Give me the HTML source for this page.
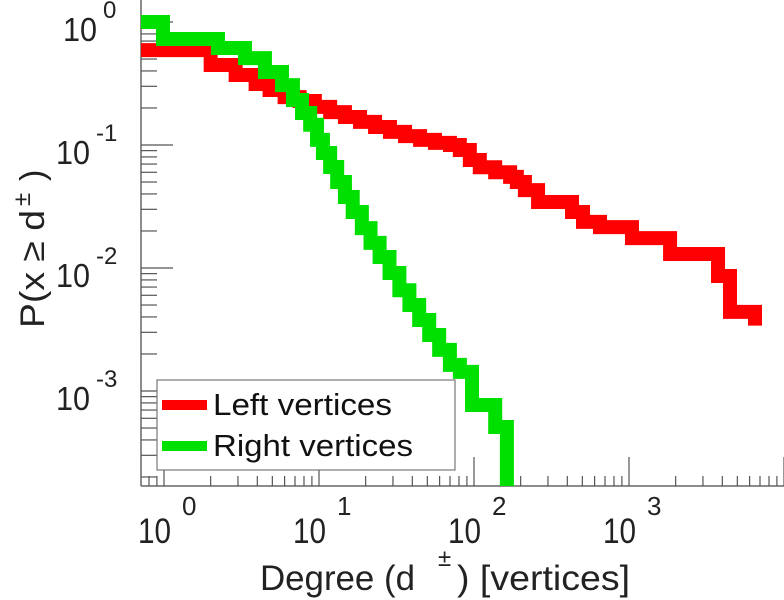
<!DOCTYPE html>
<html><head><meta charset="utf-8"><style>
html,body{margin:0;padding:0;background:#fff;}
svg{display:block;font-family:"Liberation Sans",sans-serif;}
</style></head><body>
<div style="position:relative;width:784px;height:600px;">
<svg id="chart" width="784" height="600" viewBox="0 0 784 600" style="position:absolute;left:0;top:0"></svg>
<svg width="784" height="600" style="position:absolute;left:0;top:0;font-family:'Liberation Sans',sans-serif">
 <g fill="#222">
  <text x="260" y="590" font-size="35" textLength="155" lengthAdjust="spacingAndGlyphs">Degree (d</text>
  <text x="438" y="566" font-size="24">±</text>
  <text x="457" y="590" font-size="35" textLength="173" lengthAdjust="spacingAndGlyphs">) [vertices]</text>
 </g>
 <g transform="translate(44,328) rotate(-90)" fill="#222">
  <text x="0" y="0" font-size="34" textLength="118" lengthAdjust="spacingAndGlyphs">P(x ≥ d</text>
  <text x="122" y="-14" font-size="24">±</text>
  <text x="147" y="0" font-size="34">)</text>
 </g>
 <g>
  <rect x="157" y="380" width="298" height="90" fill="#fff" stroke="#777" stroke-width="1.2"/>
  <line x1="162" y1="405" x2="207" y2="405" stroke="#ff0000" stroke-width="10"/>
  <text x="213" y="415" font-size="31" fill="#111" textLength="179" lengthAdjust="spacingAndGlyphs">Left vertices</text>
  <line x1="162" y1="446" x2="207" y2="446" stroke="#00e000" stroke-width="10"/>
  <text x="213" y="456" font-size="31" fill="#111" textLength="200" lengthAdjust="spacingAndGlyphs">Right vertices</text>
 </g>
</svg>
</div>
<script>
const redDegrees=[0.71,2,2.9,3.9,4.8,6.0,7.5,9.4,11.8,14.7,18.4,23,28.7,35.9,44.9,56,70,81,94,109,137,171,189,213,259,429,505,650,1045,1841,3752,4484,6500];
const redProbs=[0.59,0.447,0.371,0.313,0.28,0.245,0.228,0.204,0.185,0.169,0.154,0.14,0.128,0.118,0.11,0.104,0.1,0.091,0.0755,0.066,0.060,0.055,0.050,0.043,0.0344,0.0285,0.0237,0.0215,0.0175,0.013,0.0086,0.0044,0.0034];
const greenDegrees=[0.71,0.985,2.23,3.33,4.48,5.77,6.79,7.77,8.77,9.71,10.6,11.8,13.1,14.7,16.5,18.9,21.5,24.6,28.5,33.0,38.3,44.3,51.4,59.6,69.9,81.1,97.1,137,163];
const greenProbs=[1,0.727,0.615,0.509,0.392,0.307,0.232,0.182,0.146,0.110,0.0861,0.0663,0.050,0.0378,0.0285,0.0211,0.016,0.0123,0.0091,0.0066,0.005,0.00378,0.00285,0.00216,0.00163,0.00143,0.00077,0.00051,0.00025];
const xTickExps=[0,1,2,3];
const yTickExps=[0,-1,-2,-3];

const NS="http://www.w3.org/2000/svg";
const svg=document.getElementById('chart');
const L=141,R=784,T=0,B=486;
const X=d=>164+155*Math.log10(d);
const Y=p=>22-123*Math.log10(p);
function mk(t,a,p){const e=document.createElementNS(NS,t);for(const k in a)e.setAttribute(k,a[k]);(p||svg).appendChild(e);return e;}

const defs=mk('defs',{});
const cp=mk('clipPath',{id:'plotclip'},defs);
mk('rect',{x:L,y:T,width:R-L,height:B-T},cp);

const yAxis=mk('line',{x1:L,y1:T,x2:L,y2:B,stroke:'#666','stroke-width':1.5});


const xAxis=mk('line',{x1:L,y1:B,x2:R,y2:B,stroke:'#666','stroke-width':1.5});



for(let e=-4;e<=0;e++){for(let m=1;m<=9;m++){const p=m*Math.pow(10,e);const y=Y(p);if(y<T||y>B)continue;
 const len=m===1?32:16;
 const t=mk('line',{x1:L,y1:y,x2:L+len,y2:y,stroke:'#555','stroke-width':1.2});
 
 }}
for(let e=-1;e<=4;e++){for(let m=1;m<=9;m++){const d=m*Math.pow(10,e);const x=X(d);if(x<L||x>R)continue;
 const len=m===1?29:10;
 const t=mk('line',{x1:x,y1:B,x2:x,y2:B-len,stroke:'#555','stroke-width':1.2});
 
 }}

function stepPath(ds,ps,endDrop){let s='';for(let i=0;i<ds.length;i++){const x=X(ds[i]),y=Y(ps[i]);
 if(i===0)s+='M'+x+' '+y;else s+=' V'+y;
 if(i<ds.length-1)s+=' H'+X(ds[i+1]);}
 if(endDrop)s+=' V'+endDrop;return s;}
const g=mk('g',{'clip-path':'url(#plotclip)'});
const red=mk('path',{d:stepPath(redDegrees,redProbs,null),fill:'none',stroke:'#ff0000','stroke-width':14},g);


const green=mk('path',{d:stepPath(greenDegrees,greenProbs,B+20),fill:'none',stroke:'#00e000','stroke-width':14},g);



yTickExps.forEach(e=>{const y=Y(Math.pow(10,e));
 const endX=e===0?97:90;
 const t=mk('text',{x:endX-34,y:y+19,'font-size':33,fill:'#222',textLength:34,lengthAdjust:'spacingAndGlyphs'});
 t.textContent='10';
 
 
 const s=mk('text',{x:endX+6,y:y-4,'font-size':24,fill:'#222'});
 s.textContent=String(e);
 
 });
xTickExps.forEach(e=>{const x=X(Math.pow(10,e));
 const t=mk('text',{x:x-26,y:543,'font-size':35,fill:'#222',textLength:33,lengthAdjust:'spacingAndGlyphs'});
 t.textContent='10';
 
 
 const s=mk('text',{x:x+18,y:515,'font-size':26,fill:'#222'});
 s.textContent=String(e);
 
 });
</script>
</body></html>
